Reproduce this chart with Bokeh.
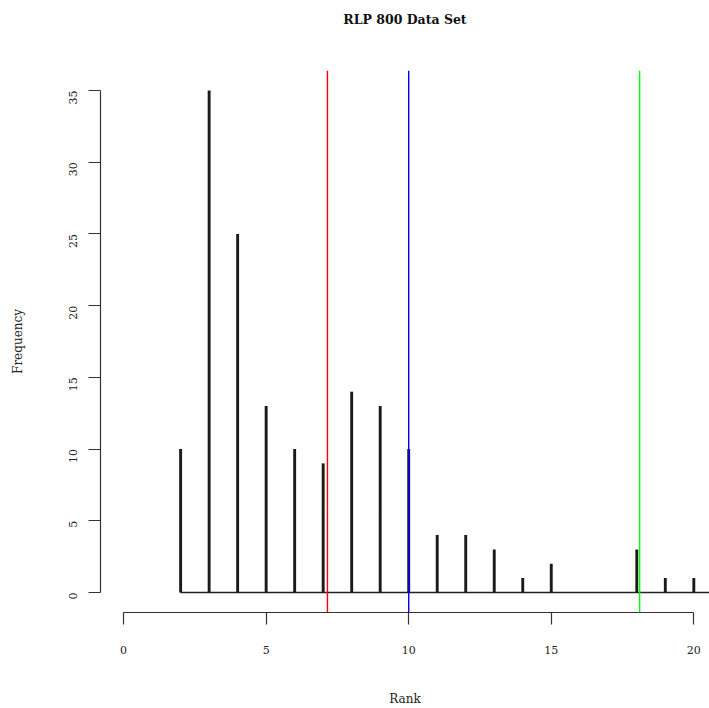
from bokeh.plotting import figure
from bokeh.models import Span, FixedTicker, Range1d, Title
from bokeh.embed import file_html
from bokeh.resources import INLINE
import math

title_text = "RLP 800 Data Set"
ranks = [2, 3, 4, 5, 6, 7, 8, 9, 10, 11, 12, 13, 14, 15, 16, 17, 18, 19, 20]
freqs = [10, 35, 25, 13, 10, 9, 14, 13, 10, 4, 4, 3, 1, 2, 0, 0, 3, 1, 1]
ref_lines = [7.15, 10.0, 18.1]
ref_colors = ["#ff0000", "#0000ff", "#00ff00"]
x_ticks = [0, 5, 10, 15, 20]
y_ticks = [0, 5, 10, 15, 20, 25, 30, 35]

FONT = "DejaVu Serif"

p = figure(width=709, height=708, output_backend="svg", toolbar_location=None,
           x_range=Range1d(-0.81, 20.55), y_range=Range1d(-1.4, 36.4),
           min_border_left=100, min_border_right=0, min_border_top=70,
           min_border_bottom=96)
p.outline_line_color = None
p.xgrid.visible = False
p.ygrid.visible = False
p.background_fill_color = "white"
p.border_fill_color = "white"

# real title (drawn farthest from the frame)
p.title.text = title_text
p.title.align = "center"
p.title.text_font = FONT
p.title.text_font_style = "bold"
p.title.text_font_size = "12.5px"
p.title.text_color = "#111111"
p.title.standoff = 10
# blank spacer panel between title and frame
p.add_layout(Title(text=" ", text_font=FONT, text_font_size="12.5px",
                   standoff=22), "above")

# baseline
p.segment(x0=[min(ranks)], y0=[0], x1=[max(ranks) + 1], y1=[0],
          line_color="#222222", line_width=1.6)
# frequency spikes
p.segment(x0=ranks, y0=[0] * len(ranks), x1=ranks, y1=freqs,
          line_color="#1a1a1a", line_width=2.9, line_cap="butt")

for loc, col in zip(ref_lines, ref_colors):
    p.add_layout(Span(location=loc, dimension="height", line_color=col, line_width=1.4))

for ax in (p.xaxis[0], p.yaxis[0]):
    ax.axis_line_color = "#333333"
    ax.axis_line_width = 1.2
    ax.major_tick_line_color = "#333333"
    ax.major_tick_line_width = 1.2
    ax.major_tick_out = 12
    ax.major_tick_in = 0
    ax.minor_tick_line_color = None
    ax.major_label_text_font = FONT
    ax.major_label_text_font_size = "11px"
    ax.major_label_text_color = "#222222"
    ax.axis_label_text_font = FONT
    ax.axis_label_text_font_size = "12px"
    ax.axis_label_text_font_style = "normal"
    ax.axis_label_text_color = "#222222"

p.xaxis[0].ticker = FixedTicker(ticks=x_ticks)
p.xaxis[0].bounds = (min(x_ticks), max(x_ticks))
p.xaxis[0].major_label_standoff = 21
p.xaxis[0].axis_label = "Rank"
p.xaxis[0].axis_label_standoff = 35

p.yaxis[0].ticker = FixedTicker(ticks=y_ticks)
p.yaxis[0].bounds = (min(y_ticks), max(y_ticks))
p.yaxis[0].major_label_orientation = math.pi / 2
p.yaxis[0].major_label_standoff = 15
p.yaxis[0].axis_label = "Frequency"
p.yaxis[0].axis_label_standoff = 38

open("out.html", "w").write(file_html(p, INLINE))
